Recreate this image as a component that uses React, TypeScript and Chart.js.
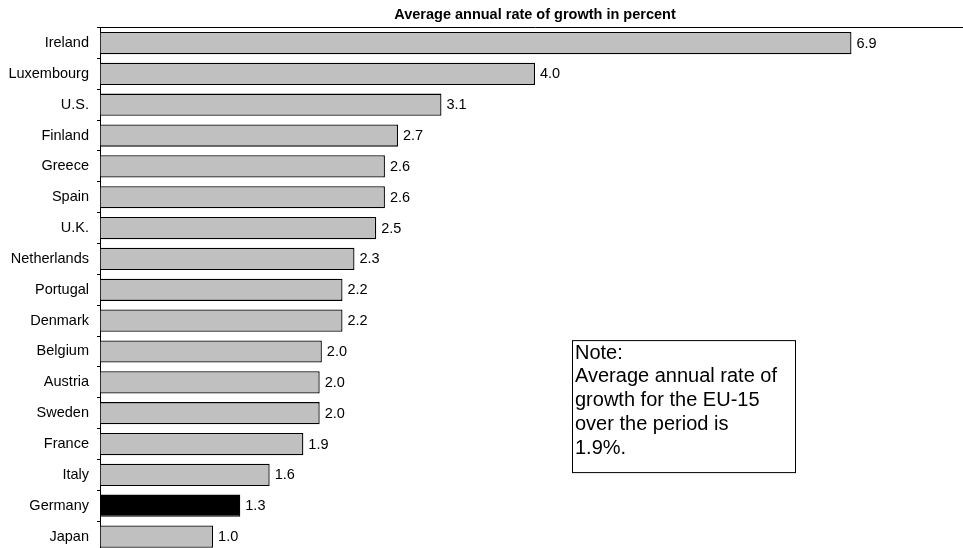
import React, { useEffect, useRef } from "react";
import { Chart, registerables } from "chart.js";

Chart.register(...registerables);

const categories = [
  "Ireland", "Luxembourg", "U.S.", "Finland", "Greece", "Spain", "U.K.",
  "Netherlands", "Portugal", "Denmark", "Belgium", "Austria", "Sweden",
  "France", "Italy", "Germany", "Japan",
];
const growthValues = [
  6.91, 4.0, 3.14, 2.74, 2.62, 2.62, 2.54, 2.34, 2.23, 2.23, 2.04, 2.02, 2.02,
  1.87, 1.56, 1.29, 1.04,
];
const highlighted = ["Germany"];
const titleText = "Average annual rate of growth in percent";
const noteLines = [
  "Note:",
  "Average annual rate of",
  "growth for the EU-15",
  "over the period is",
  "1.9%.",
];

const FONT = "'Liberation Sans', Arial, Helvetica, sans-serif";

const valueLabels = {
  id: "valueLabels",
  afterDatasetsDraw(chart: any) {
    const ctx = chart.ctx;
    const meta = chart.getDatasetMeta(0);
    ctx.save();
    ctx.font = `14.5px ${FONT}`;
    ctx.fillStyle = "#000";
    ctx.textAlign = "left";
    ctx.textBaseline = "middle";
    meta.data.forEach((bar: any, i: number) => {
      const v = chart.data.datasets[0].data[i] as number;
      ctx.fillText(v.toFixed(1), bar.x + 5, bar.y + 0.5);
    });
    ctx.restore();
  },
};

const noteBox = {
  id: "noteBox",
  afterDraw(chart: any) {
    const ctx = chart.ctx;
    const a = chart.chartArea;
    const left = a.left + 472;
    const top = a.top + 312.5;
    const w = 223;
    const h = 132;
    ctx.save();
    ctx.fillStyle = "#fff";
    ctx.fillRect(left, top, w, h);
    ctx.strokeStyle = "#000";
    ctx.lineWidth = 1;
    ctx.strokeRect(left + 0.5, top + 0.5, w, h);
    ctx.font = `20px ${FONT}`;
    ctx.fillStyle = "#000";
    ctx.textAlign = "left";
    ctx.textBaseline = "alphabetic";
    noteLines.forEach((line, i) => {
      ctx.fillText(line, left + 3, top + 18.5 + i * 23.75);
    });
    ctx.restore();
  },
};

export default function App() {
  const canvasRef = useRef<HTMLCanvasElement | null>(null);

  useEffect(() => {
    if (!canvasRef.current) return;
    const chart = new Chart(canvasRef.current, {
      type: "bar",
      data: {
        labels: categories,
        datasets: [
          {
            data: growthValues,
            backgroundColor: categories.map((c) =>
              highlighted.includes(c) ? "#000000" : "#c0c0c0"
            ),
            borderColor: "#000000",
            borderWidth: 1.3,
            categoryPercentage: 1,
            barPercentage: 0.72,
          },
        ],
      },
      options: {
        indexAxis: "y",
        animation: false,
        responsive: true,
        maintainAspectRatio: false,
        layout: { padding: { top: 0, left: 0, right: 0, bottom: 0 } },
        plugins: {
          legend: { display: false },
          tooltip: { enabled: false },
          title: {
            display: true,
            text: titleText,
            fullSize: false,
            color: "#000",
            font: { family: FONT, size: 14.5, weight: "bold" },
            padding: { top: 6, bottom: 4.2 },
          },
        },
        scales: {
          x: {
            position: "top",
            min: 0,
            max: 8,
            ticks: { display: false },
            grid: { display: true, drawOnChartArea: false, drawTicks: false },
            border: { display: true, color: "#000", width: 1 },
            afterFit: (s: any) => {
              s.height = 0;
              s.paddingLeft = 0;
              s.paddingRight = 0;
            },
          },
          y: {
            position: "left",
            offset: true,
            ticks: {
              color: "#000",
              font: { family: FONT, size: 14.5 },
              padding: 8,
            },
            grid: {
              display: true,
              offset: true,
              drawOnChartArea: false,
              drawTicks: true,
              tickLength: 3,
              color: "#000",
            },
            border: { display: true, color: "#000", width: 1 },
            afterFit: (s: any) => {
              s.width = 100;
              s.paddingTop = 0;
              s.paddingBottom = 0;
            },
          },
        },
      },
      plugins: [valueLabels, noteBox],
    });
    return () => chart.destroy();
  }, []);

  return (
    <div
      style={{
        position: "fixed",
        left: 0,
        top: 0,
        width: 970,
        height: 552,
        background: "#fff",
      }}
    >
      <canvas ref={canvasRef} />
    </div>
  );
}
